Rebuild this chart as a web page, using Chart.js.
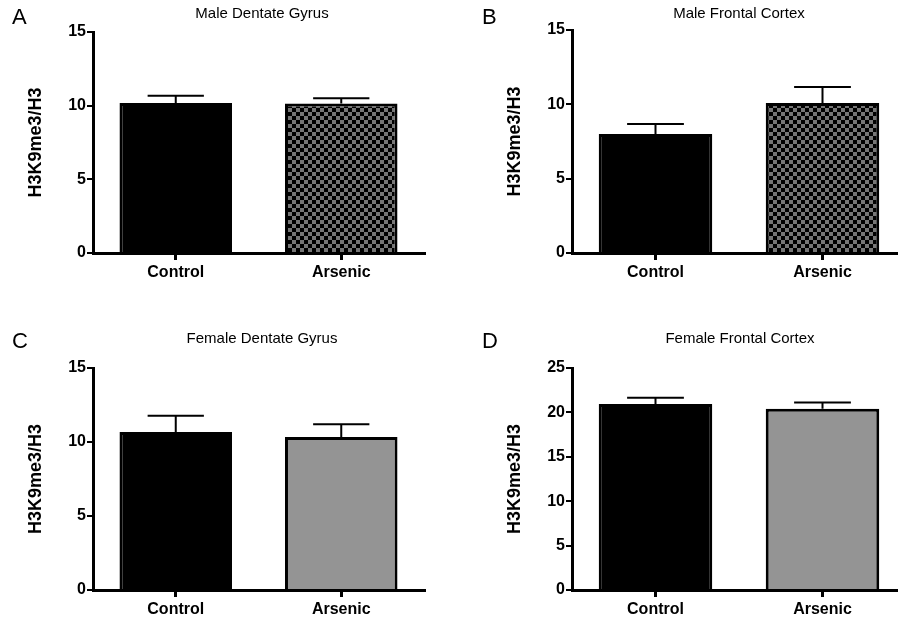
<!DOCTYPE html>
<html><head><meta charset="utf-8">
<script src="https://cdn.jsdelivr.net/npm/chart.js@4/dist/chart.umd.min.js"></script>
<style>
html,body{margin:0;padding:0;background:#fff;width:898px;height:620px;overflow:hidden;position:relative}
canvas{position:absolute}
</style></head><body>
<canvas id="cA" width="449" height="300" style="left:0;top:0"></canvas>
<canvas id="cB" width="460" height="300" style="left:449px;top:0"></canvas>
<canvas id="cC" width="449" height="320" style="left:0;top:300px"></canvas>
<canvas id="cD" width="460" height="320" style="left:449px;top:300px"></canvas>
<script>
// ---- data ----
const categories = ['Control', 'Arsenic'];
const panelLetters = ['A', 'B', 'C', 'D'];
const panelTitles = ['Male Dentate Gyrus', 'Male Frontal Cortex', 'Female Dentate Gyrus', 'Female Frontal Cortex'];
const yAxisTitle = 'H3K9me3/H3';
const maleDGMeans = [10.18, 10.15];
const maleDGSem = [0.50, 0.36];
const maleFCMeans = [8.00, 10.09];
const maleFCSem = [0.67, 1.07];
const femaleDGMeans = [10.68, 10.34];
const femaleDGSem = [1.10, 0.86];
const femaleFCMeans = [20.95, 20.40];
const femaleFCSem = [0.70, 0.72];
const yMaxA = 15, yMaxB = 15, yMaxC = 15, yMaxD = 25;
const yStep = 5;

const FONT = '"Liberation Sans", Arial, Helvetica, sans-serif';

function checker() {
  const c = document.createElement('canvas');
  c.width = 8; c.height = 8;
  const x = c.getContext('2d');
  x.fillStyle = '#767676'; x.fillRect(0, 0, 8, 8);
  x.fillStyle = '#000'; x.fillRect(0, 0, 4, 4); x.fillRect(4, 4, 4, 4);
  return x.createPattern(c, 'repeat');
}

const errorBarPlugin = {
  id: 'errorBars',
  afterDatasetsDraw(chart, args, opts) {
    const ctx = chart.ctx, ys = chart.scales.y;
    const meta = chart.getDatasetMeta(0);
    const sem = opts.sem, means = chart.data.datasets[0].data;
    ctx.save();
    ctx.strokeStyle = '#000';
    ctx.lineWidth = 2;
    meta.data.forEach((el, i) => {
      const yTop = ys.getPixelForValue(means[i] + sem[i]);
      const half = el.width / 4;
      ctx.beginPath();
      ctx.moveTo(el.x, el.y);
      ctx.lineTo(el.x, yTop);
      ctx.moveTo(el.x - half, yTop);
      ctx.lineTo(el.x + half, yTop);
      ctx.stroke();
    });
    ctx.restore();
  }
};

const labelPlugin = {
  id: 'panelLabels',
  afterDraw(chart, args, opts) {
    const ctx = chart.ctx;
    ctx.save();
    ctx.fillStyle = '#000';
    ctx.textBaseline = 'middle';
    ctx.textAlign = 'left';
    ctx.font = '22px ' + FONT;
    ctx.fillText(opts.letter, opts.letterX, opts.letterY);
    ctx.textAlign = 'center';
    ctx.font = '15px ' + FONT;
    ctx.fillText(opts.title, opts.titleX, opts.titleY);
    ctx.restore();
  }
};

function makeChart(id, means, sem, yMax, fills, pad, yW, xH, lab) {
  return new Chart(document.getElementById(id), {
    type: 'bar',
    data: {
      labels: categories,
      datasets: [{
        data: means,
        backgroundColor: fills,
        borderColor: '#000',
        borderWidth: 3,
        borderSkipped: 'bottom',
        barPercentage: 0.68,
        categoryPercentage: 1.0
      }]
    },
    options: {
      responsive: false,
      animation: false,
      devicePixelRatio: 1,
      layout: { padding: pad },
      plugins: {
        legend: { display: false },
        tooltip: { enabled: false },
        errorBars: { sem: sem },
        panelLabels: lab
      },
      scales: {
        x: {
          offset: true,
          grid: { display: true, offset: false, drawOnChartArea: false, drawTicks: true, tickLength: 7, color: '#000', lineWidth: 3 },
          border: { display: true, color: '#000', width: 3 },
          ticks: { color: '#000', font: { family: FONT, size: 16, weight: 'bold' }, padding: 3 },
          afterFit(s) { s.height = xH; }
        },
        y: {
          min: 0, max: yMax,
          grid: { display: true, drawOnChartArea: false, drawTicks: true, tickLength: 6, color: '#000', lineWidth: 2 },
          border: { display: true, color: '#000', width: 3 },
          ticks: { stepSize: yStep, color: '#000', font: { family: FONT, size: 16, weight: 'bold' }, padding: 1 },
          title: { display: true, text: yAxisTitle, color: '#000', font: { family: FONT, size: 18, weight: 'bold' }, padding: 0 },
          afterFit(s) { s.width = yW; }
        }
      }
    },
    plugins: [errorBarPlugin, labelPlugin]
  });
}

const pat = checker();
makeChart('cA', maleDGMeans, maleDGSem, yMaxA, ['#000', pat],
  { left: 25, right: 25, top: 32, bottom: 0 }, 68, 47,
  { letter: panelLetters[0], letterX: 12, letterY: 18, title: panelTitles[0], titleX: 262, titleY: 14 });
makeChart('cB', maleFCMeans, maleFCSem, yMaxB, ['#000', pat],
  { left: 55, right: 3, top: 30, bottom: 0 }, 68, 47,
  { letter: panelLetters[1], letterX: 33, letterY: 18, title: panelTitles[1], titleX: 290, titleY: 14 });
makeChart('cC', femaleDGMeans, femaleDGSem, yMaxC, ['#000', '#949494'],
  { left: 25, right: 25, top: 68, bottom: 0 }, 68, 30,
  { letter: panelLetters[2], letterX: 12, letterY: 42, title: panelTitles[2], titleX: 262, titleY: 39 });
makeChart('cD', femaleFCMeans, femaleFCSem, yMaxD, ['#000', '#949494'],
  { left: 55, right: 3, top: 68, bottom: 0 }, 68, 30,
  { letter: panelLetters[3], letterX: 33, letterY: 42, title: panelTitles[3], titleX: 291, titleY: 39 });
</script>
</body></html>
